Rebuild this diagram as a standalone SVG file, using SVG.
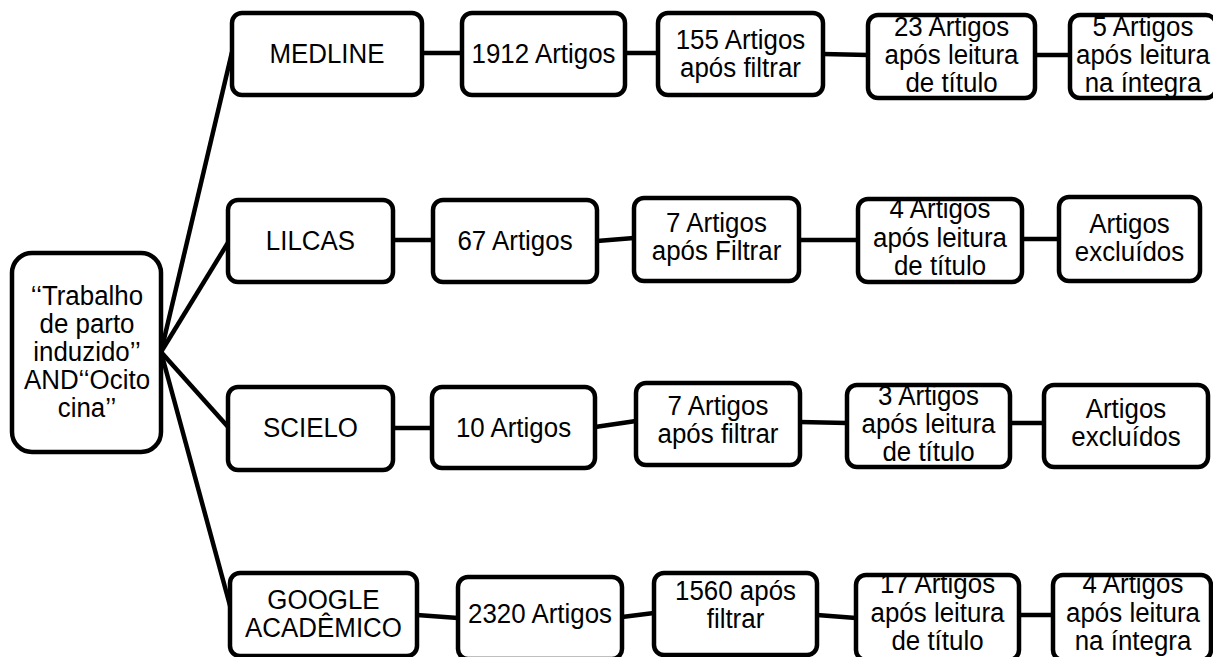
<svg xmlns="http://www.w3.org/2000/svg" width="1213" height="657" viewBox="0 0 1213 657">
<style>
.box{fill:#fff;stroke:#000;stroke-width:4.5}
.t{font-family:"Liberation Sans",Arial,sans-serif;font-size:28px;fill:#000;text-anchor:middle}
.c{stroke:#000;stroke-width:4.5;fill:none;stroke-linecap:butt}
</style>
<rect x="0" y="0" width="1213" height="657" fill="#fff"/>
<g id="connectors">
<line class="c" x1="161" y1="352" x2="232" y2="52"/>
<line class="c" x1="161" y1="352" x2="229" y2="241"/>
<line class="c" x1="161" y1="352" x2="229" y2="428"/>
<line class="c" x1="161" y1="352" x2="232" y2="613"/>
<line class="c" x1="422" y1="53" x2="462" y2="53"/>
<line class="c" x1="625" y1="53" x2="658" y2="53"/>
<line class="c" x1="823" y1="54" x2="868" y2="55"/>
<line class="c" x1="1035" y1="55" x2="1070" y2="55"/>
<line class="c" x1="393" y1="240" x2="433" y2="240"/>
<line class="c" x1="597" y1="241" x2="634" y2="238"/>
<line class="c" x1="799" y1="240" x2="858" y2="240"/>
<line class="c" x1="1022" y1="239" x2="1059" y2="239"/>
<line class="c" x1="393" y1="428" x2="432" y2="428"/>
<line class="c" x1="595" y1="427" x2="636" y2="421"/>
<line class="c" x1="800" y1="422" x2="847" y2="423"/>
<line class="c" x1="1010" y1="423" x2="1044" y2="423"/>
<line class="c" x1="417" y1="615" x2="458" y2="618"/>
<line class="c" x1="622" y1="617" x2="654" y2="613"/>
<line class="c" x1="817" y1="615" x2="856" y2="618"/>
<line class="c" x1="1019" y1="615" x2="1053" y2="615"/>
</g>
<g id="root">
<rect class="box" x="12" y="253" width="149" height="199" rx="20"/>
<g transform="matrix(0.925 0 0 1 6.525 0)">
<text class="t" x="87" y="305">‘‘Trabalho</text>
<text class="t" x="87" y="333">de parto</text>
<text class="t" x="87" y="361">induzido’’</text>
<text class="t" x="87" y="389">AND‘‘Ocito</text>
<text class="t" x="87" y="417">cina’’</text>
</g>
</g>
<g id="medline">
<rect class="box" x="232" y="13" width="190" height="82" rx="10"/>
<g transform="matrix(0.925 0 0 1 24.525 0)"><text class="t" x="327" y="63">MEDLINE</text></g>
</g>
<g id="medline-1912">
<rect class="box" x="462" y="13" width="163" height="82" rx="10"/>
<g transform="matrix(0.925 0 0 1 40.7625 0)"><text class="t" x="543.5" y="63">1912 Artigos</text></g>
</g>
<g id="medline-155">
<rect class="box" x="658" y="13" width="165" height="82" rx="10"/>
<g transform="matrix(0.925 0 0 1 55.5375 0)">
<text class="t" x="740.5" y="49">155 Artigos</text>
<text class="t" x="740.5" y="77">após filtrar</text>
</g>
</g>
<g id="medline-23">
<rect class="box" x="868" y="15" width="167" height="83" rx="10"/>
<g transform="matrix(0.925 0 0 1 71.3625 0)">
<text class="t" x="951.5" y="36">23 Artigos</text>
<text class="t" x="951.5" y="64">após leitura</text>
<text class="t" x="951.5" y="92">de título</text>
</g>
</g>
<g id="medline-5">
<rect class="box" x="1070" y="15" width="146" height="83" rx="10"/>
<g transform="matrix(0.925 0 0 1 85.725 0)">
<text class="t" x="1143" y="36">5 Artigos</text>
<text class="t" x="1143" y="64">após leitura</text>
<text class="t" x="1143" y="92">na íntegra</text>
</g>
</g>
<g id="lilcas">
<rect class="box" x="228" y="200" width="165" height="82" rx="10"/>
<g transform="matrix(0.925 0 0 1 23.2875 0)"><text class="t" x="310.5" y="250">LILCAS</text></g>
</g>
<g id="lilcas-67">
<rect class="box" x="433" y="200" width="164" height="82" rx="10"/>
<g transform="matrix(0.925 0 0 1 38.625 0)"><text class="t" x="515" y="250">67 Artigos</text></g>
</g>
<g id="lilcas-7">
<rect class="box" x="634" y="198" width="165" height="83" rx="10"/>
<g transform="matrix(0.925 0 0 1 53.7375 0)">
<text class="t" x="716.5" y="232">7 Artigos</text>
<text class="t" x="716.5" y="260">após Filtrar</text>
</g>
</g>
<g id="lilcas-4">
<rect class="box" x="858" y="199" width="164" height="83" rx="10"/>
<g transform="matrix(0.925 0 0 1 70.5 0)">
<text class="t" x="940" y="218">4 Artigos</text>
<text class="t" x="940" y="247">após leitura</text>
<text class="t" x="940" y="275">de título</text>
</g>
</g>
<g id="lilcas-excl">
<rect class="box" x="1059" y="197" width="141" height="84" rx="10"/>
<g transform="matrix(0.925 0 0 1 84.7125 0)">
<text class="t" x="1129.5" y="233">Artigos</text>
<text class="t" x="1129.5" y="261">excluídos</text>
</g>
</g>
<g id="scielo">
<rect class="box" x="228" y="387" width="165" height="83" rx="10"/>
<g transform="matrix(0.925 0 0 1 23.2875 0)"><text class="t" x="310.5" y="437">SCIELO</text></g>
</g>
<g id="scielo-10">
<rect class="box" x="432" y="387" width="163" height="81" rx="10"/>
<g transform="matrix(0.925 0 0 1 38.5125 0)"><text class="t" x="513.5" y="437">10 Artigos</text></g>
</g>
<g id="scielo-7">
<rect class="box" x="636" y="383" width="164" height="82" rx="10"/>
<g transform="matrix(0.925 0 0 1 53.85 0)">
<text class="t" x="718" y="415">7 Artigos</text>
<text class="t" x="718" y="443">após filtrar</text>
</g>
</g>
<g id="scielo-3">
<rect class="box" x="847" y="385" width="163" height="82" rx="10"/>
<g transform="matrix(0.925 0 0 1 69.6375 0)">
<text class="t" x="928.5" y="405">3 Artigos</text>
<text class="t" x="928.5" y="433">após leitura</text>
<text class="t" x="928.5" y="461">de título</text>
</g>
</g>
<g id="scielo-excl">
<rect class="box" x="1044" y="385" width="164" height="82" rx="10"/>
<g transform="matrix(0.925 0 0 1 84.45 0)">
<text class="t" x="1126" y="418">Artigos</text>
<text class="t" x="1126" y="446">excluídos</text>
</g>
</g>
<g id="google">
<rect class="box" x="230" y="573" width="187" height="83" rx="10"/>
<g transform="matrix(0.925 0 0 1 24.2625 0)">
<text class="t" x="323.5" y="609">GOOGLE</text>
<text class="t" x="323.5" y="637">ACADÊMICO</text>
</g>
</g>
<g id="google-2320">
<rect class="box" x="458" y="577" width="164" height="82" rx="10"/>
<g transform="matrix(0.925 0 0 1 40.5 0)"><text class="t" x="540" y="623">2320 Artigos</text></g>
</g>
<g id="google-1560">
<rect class="box" x="654" y="573" width="163" height="82" rx="10"/>
<g transform="matrix(0.925 0 0 1 55.1625 0)">
<text class="t" x="735.5" y="600">1560 após</text>
<text class="t" x="735.5" y="628">filtrar</text>
</g>
</g>
<g id="google-17">
<rect class="box" x="856" y="575" width="163" height="85" rx="10"/>
<g transform="matrix(0.925 0 0 1 70.3125 0)">
<text class="t" x="937.5" y="593">17 Artigos</text>
<text class="t" x="937.5" y="622">após leitura</text>
<text class="t" x="937.5" y="650">de título</text>
</g>
</g>
<g id="google-4">
<rect class="box" x="1053" y="575" width="158" height="85" rx="10"/>
<g transform="matrix(0.925 0 0 1 84.975 0)">
<text class="t" x="1133" y="593">4 Artigos</text>
<text class="t" x="1133" y="622">após leitura</text>
<text class="t" x="1133" y="650">na íntegra</text>
</g>
</g>
</svg>
